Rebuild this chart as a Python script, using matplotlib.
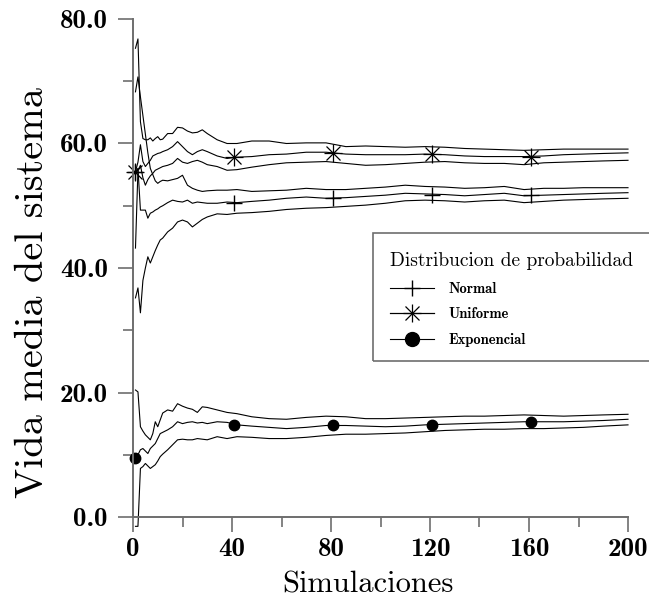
import numpy as np
import matplotlib.pyplot as plt
from matplotlib.lines import Line2D
from matplotlib.patches import Rectangle
from matplotlib.ticker import MultipleLocator

plt.rcParams["font.family"] = ["cmr10", "DejaVu Serif"]
plt.rcParams["axes.formatter.use_mathtext"] = True

# number of simulations where the curves were read
sims = [1, 2, 3, 4, 5, 6, 7, 8, 9, 10, 11, 12, 14, 16, 18, 20, 22, 24, 26, 28, 30,
        34, 38, 42, 48, 55, 62, 70, 78, 86, 94, 102, 110, 118, 126, 134, 142, 150,
        158, 166, 174, 182, 190, 200]

# Uniforme: upper bound, mean, lower bound
unif_hi = [75.3, 76.8, 63.5, 60.8, 60.6, 60.6, 60.9, 60.4, 60.8, 61.1, 60.6, 60.7, 61.6,
           61.6, 62.6, 62.5, 62.0, 61.7, 61.8, 62.2, 61.6, 60.6, 60.0, 60.0, 60.4, 60.4,
           60.0, 60.1, 60.1, 59.5, 59.6, 59.5, 59.4, 59.5, 59.4, 59.2, 59.1, 59.0, 58.9,
           59.0, 59.1, 59.1, 59.1, 59.1]
unif_mean = [55.5, 57.0, 59.8, 57.1, 56.3, 56.8, 57.3, 58.0, 58.2, 58.4, 58.5, 58.7, 59.0,
             59.5, 60.3, 59.5, 58.7, 58.2, 58.7, 59.0, 58.7, 58.0, 57.6, 57.8, 57.9, 58.2,
             58.3, 58.6, 58.6, 58.3, 58.2, 58.2, 58.2, 58.3, 58.2, 58.0, 57.9, 57.9, 57.9,
             58.0, 58.2, 58.3, 58.4, 58.5]
unif_lo = [43.2, 55.7, 56.5, 54.5, 53.3, 54.2, 54.8, 55.2, 55.7, 55.9, 56.1, 56.3, 56.5,
           56.8, 57.6, 57.0, 56.8, 57.1, 57.3, 57.0, 56.6, 56.3, 55.7, 55.8, 56.2, 56.6,
           56.9, 57.0, 57.1, 56.8, 56.5, 56.6, 56.8, 57.0, 57.1, 56.9, 56.8, 56.8, 56.6,
           56.9, 57.0, 57.1, 57.2, 57.3]

# Normal
norm_hi = [68.3, 70.7, 67.5, 64.5, 61.5, 58.5, 56.0, 55.0, 54.0, 53.6, 53.9, 54.1, 54.0,
           54.2, 54.4, 54.9, 53.3, 52.8, 52.5, 52.3, 52.4, 52.5, 52.5, 52.6, 52.3, 52.4,
           52.5, 52.8, 52.6, 52.6, 52.8, 53.0, 53.3, 53.1, 53.0, 52.8, 52.9, 53.1, 52.6,
           52.8, 52.8, 52.9, 52.9, 52.9]
norm_mean = [55.5, 56.0, 49.3, 49.3, 49.3, 48.0, 48.8, 49.0, 49.3, 49.5, 49.8, 50.0, 50.5,
             50.9, 50.7, 50.6, 50.9, 50.4, 50.6, 50.5, 50.4, 50.4, 50.6, 50.5, 50.7, 50.9,
             51.2, 51.4, 51.2, 51.3, 51.5, 51.7, 52.0, 51.9, 51.8, 51.6, 51.8, 52.0, 51.6,
             51.7, 51.8, 51.9, 52.0, 52.1]
norm_lo = [35.2, 36.8, 32.8, 38.0, 40.0, 41.8, 40.8, 41.8, 42.8, 43.7, 44.5, 44.8, 45.8,
           46.4, 47.4, 47.7, 47.4, 46.6, 47.2, 47.8, 48.2, 48.7, 48.6, 48.8, 48.9, 49.1,
           49.4, 49.6, 49.7, 49.9, 50.1, 50.4, 50.8, 50.9, 50.8, 50.6, 50.8, 50.9, 50.5,
           50.7, 50.9, 51.0, 51.1, 51.2]

# Exponencial
expo_hi = [20.4, 20.1, 14.5, 13.8, 13.2, 12.8, 12.4, 13.4, 15.3, 14.5, 15.6, 16.7, 17.2,
           17.0, 18.2, 17.8, 17.5, 17.3, 16.8, 17.7, 17.6, 17.2, 16.8, 16.6, 16.1, 15.8,
           15.7, 16.0, 16.2, 16.1, 15.8, 15.8, 15.9, 16.0, 16.1, 16.2, 16.2, 16.3, 16.4,
           16.3, 16.2, 16.3, 16.4, 16.5]
expo_mean = [9.4, 10.0, 10.8, 11.0, 10.6, 10.2, 11.0, 11.4, 11.8, 12.6, 13.4, 13.6, 14.0,
             14.5, 15.3, 15.0, 15.2, 15.3, 15.1, 15.2, 15.0, 15.3, 15.2, 14.8, 14.6, 14.4,
             14.2, 14.4, 14.7, 14.7, 14.6, 14.5, 14.6, 14.8, 14.9, 15.0, 15.1, 15.2, 15.3,
             15.3, 15.3, 15.4, 15.5, 15.7]
expo_lo = [-1.5, -1.5, 7.8, 8.1, 8.6, 8.2, 7.8, 8.1, 8.4, 9.0, 9.7, 10.1, 10.8, 11.6, 12.4,
           12.5, 12.4, 12.4, 12.6, 12.5, 12.4, 12.9, 12.6, 12.9, 12.8, 12.6, 12.6, 12.8,
           13.1, 13.3, 13.3, 13.4, 13.5, 13.7, 13.9, 14.0, 14.1, 14.1, 14.2, 14.2, 14.3,
           14.4, 14.6, 14.8]

# marker positions on the mean curves
mark_x = [1, 41, 81, 121, 161]
norm_marks = [55.5, 50.5, 51.2, 51.7, 51.7]
unif_marks = [55.5, 57.8, 58.4, 58.3, 57.9]
expo_marks = [9.5, 14.7, 14.8, 14.8, 15.3]

fig = plt.figure(figsize=(6.49, 5.99), dpi=100)
ax = fig.add_axes([133 / 649, 1 - 517 / 599, 495 / 649, 498 / 599])

lw = 0.8
for curve in [unif_hi, unif_mean, unif_lo, norm_hi, norm_mean, norm_lo,
              expo_hi, expo_mean, expo_lo]:
    ax.plot(sims, curve, color="black", lw=lw, clip_on=False)

# Uniforme marker = "+" and "x" drawn on top of each other (asterisk)
ax.plot(mark_x, norm_marks, ls="none", marker="+", ms=11, mew=1.0, color="black", clip_on=False)
ax.plot(mark_x, unif_marks, ls="none", marker="+", ms=13, mew=0.9, color="black", clip_on=False)
ax.plot(mark_x, unif_marks, ls="none", marker="x", ms=9.5, mew=0.9, color="black", clip_on=False)
ax.plot(mark_x, expo_marks, ls="none", marker="o", ms=7.5, color="black", clip_on=False)

ax.set_xlim(0, 200)
ax.set_ylim(0, 80)
for s in ["top", "right"]:
    ax.spines[s].set_visible(False)
for s in ["left", "bottom"]:
    ax.spines[s].set_color("#6e6e6e")
    ax.spines[s].set_linewidth(1.4)

ax.xaxis.set_minor_locator(MultipleLocator(20))
ax.yaxis.set_minor_locator(MultipleLocator(10))
ax.set_xticks([0, 40, 80, 120, 160, 200])
ax.set_xticklabels(["0", "40", "80", "120", "160", "200"])
ax.set_yticks([0, 20, 40, 60, 80])
ax.set_yticklabels(["0.0", "20.0", "40.0", "60.0", "80.0"])
ax.tick_params(which="major", direction="out", length=11, width=1.2, color="#6e6e6e")
ax.tick_params(axis="y", which="major", pad=7)
ax.tick_params(axis="x", which="major", pad=4)
ax.tick_params(which="minor", direction="out", length=7, width=1.2, color="#6e6e6e")
for lab in ax.get_xticklabels() + ax.get_yticklabels():
    lab.set_fontfamily("cmb10")
    lab.set_fontsize(19.5)

ax.set_xlabel("Simulaciones", fontsize=22)
ax.xaxis.set_label_coords(0.475, -0.108)
ax.set_ylabel("Vida media del sistema", fontsize=29, va="center")
ax.yaxis.set_label_coords(33 / 649, 1 - 293 / 599, transform=fig.transFigure)

handles = [
    Line2D([], [], color="black", lw=lw, marker="+", ms=11, mew=1.0),
    (Line2D([], [], color="black", lw=lw, marker="+", ms=13, mew=0.9),
     Line2D([], [], color="black", lw=lw, marker="x", ms=9.5, mew=0.9)),
    Line2D([], [], color="black", lw=lw, marker="o", ms=10),
]
leg = fig.legend(handles, ["Normal", "Uniforme", "Exponencial"],
                 title="Distribucion de probabilidad", loc="upper left",
                 bbox_to_anchor=(377 / 649, 1 - 239 / 599), frameon=False,
                 alignment="left", handlelength=3.0, handletextpad=1.0,
                 labelspacing=0.8, prop={"family": "cmb10", "size": 10.5},
                 title_fontproperties={"family": "cmr10", "size": 14})
# legend box runs past the right edge of the figure, as in the original
fig.patches.append(Rectangle((373 / 649, 1 - 361 / 599), 0.5, 128 / 599,
                             transform=fig.transFigure, fill=False,
                             edgecolor="#6e6e6e", lw=1.2))

fig.savefig("out.png", dpi=100)
